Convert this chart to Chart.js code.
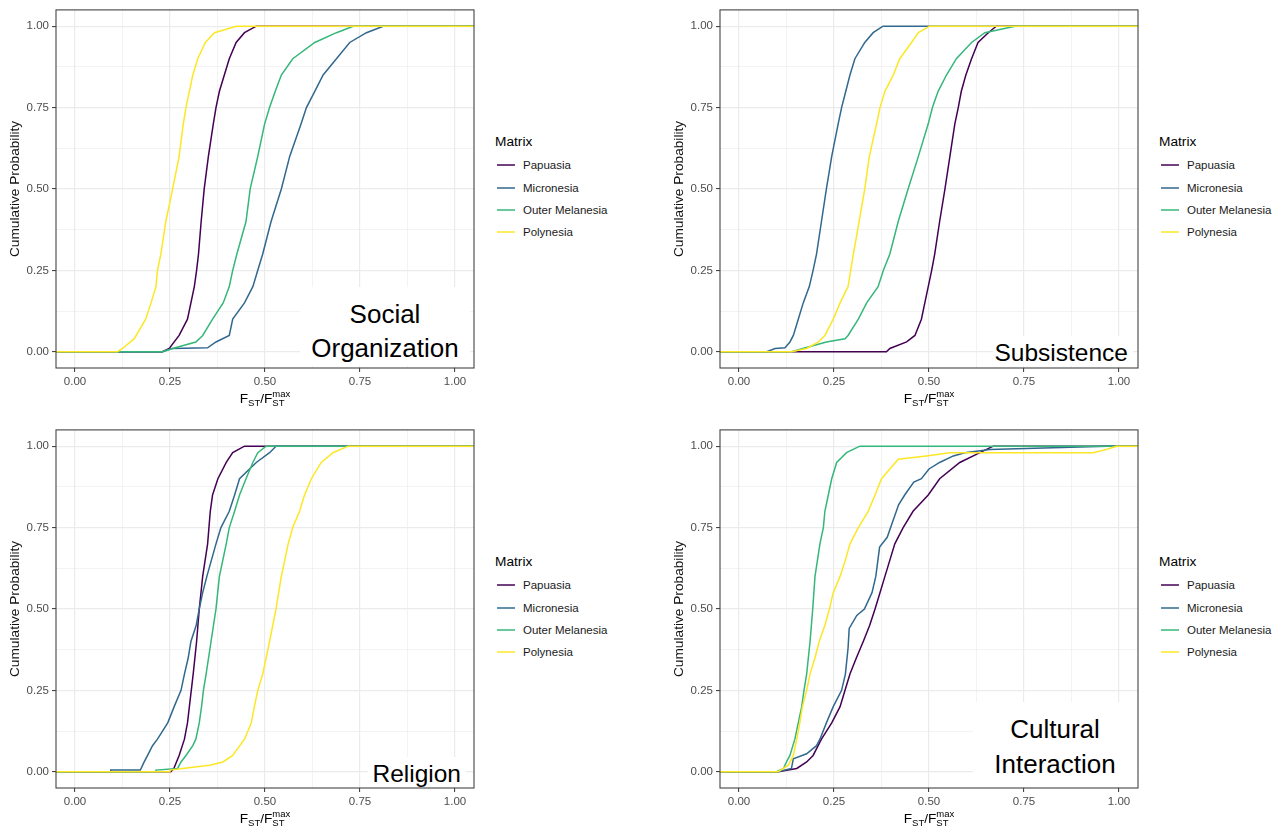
<!DOCTYPE html>
<html>
<head>
<meta charset="utf-8">
<script src="https://cdn.jsdelivr.net/npm/chart.js@4.4.1/dist/chart.umd.min.js"></script>
<style>
  body { margin: 0; background: #fff; width: 1284px; height: 837px; position: relative; overflow: hidden;
         font-family: "Liberation Sans", Arial, sans-serif; }
  canvas { position: absolute; }
  .xt { position: absolute; font-size: 13.7px; line-height: 14px; color: #000; white-space: nowrap; transform: translateX(-50%); }
  .xt sub { font-size: 9.5px; vertical-align: -3px; line-height: 0; }
  .xt .stk { display: inline-block; vertical-align: -3px; font-size: 9.5px; line-height: 9px; }
  .xt .stk span { display: block; }
  .lg { position: absolute; }
  .lg .ttl { position: absolute; left: 0; top: -8px; font-size: 13.7px; line-height: 16px; color: #000; white-space: nowrap; }
  .lg .key { position: absolute; left: 2px; width: 18px; height: 2px; opacity: 0.75; }
  .lg .lab { position: absolute; left: 28px; font-size: 11.5px; line-height: 14px; color: #1a1a1a; white-space: nowrap; }
  .note { position: absolute; background: #fff; color: #000; box-sizing: border-box; white-space: nowrap; }
</style>
</head>
<body>
<script>
// viridis palette, same order as the legend
const seriesNames = ['Papuasia', 'Micronesia', 'Outer Melanesia', 'Polynesia'];
const seriesColors = ['#440154', '#31688E', '#35B779', '#FDE725'];

const xMin = -0.05, xMax = 1.05;
const majorTicks = [0, 0.25, 0.5, 0.75, 1];
const minorTicks = [0.125, 0.375, 0.625, 0.875];
const tickLabels = ['0.00', '0.25', '0.50', '0.75', '1.00'];

// ECDF: [F_ST/F_ST^max, cumulative probability]
// Social Organization
const socPapuasia = [[0.23,0],[0.248,0.01],[0.274,0.05],[0.296,0.1],[0.314,0.2],[0.32,0.25],[0.325,0.3],[0.332,0.4],[0.34,0.5],[0.351,0.6],[0.364,0.7],[0.371,0.75],[0.38,0.8],[0.393,0.85],[0.406,0.9],[0.424,0.95],[0.446,0.98],[0.477,1]];
const socMicronesia = [[0.23,0],[0.255,0.01],[0.349,0.012],[0.371,0.03],[0.406,0.05],[0.415,0.1],[0.446,0.15],[0.468,0.2],[0.481,0.25],[0.494,0.3],[0.516,0.4],[0.543,0.5],[0.565,0.6],[0.595,0.7],[0.609,0.75],[0.631,0.8],[0.653,0.85],[0.688,0.9],[0.723,0.95],[0.767,0.98],[0.811,1]];
const socOuterMelanesia = [[0.23,0],[0.266,0.013],[0.318,0.03],[0.336,0.05],[0.362,0.1],[0.39,0.15],[0.406,0.2],[0.415,0.25],[0.426,0.3],[0.45,0.4],[0.461,0.5],[0.481,0.6],[0.499,0.7],[0.512,0.75],[0.527,0.8],[0.543,0.85],[0.573,0.9],[0.631,0.95],[0.688,0.98],[0.732,1]];
const socPolynesia = [[0.112,0],[0.125,0.01],[0.156,0.04],[0.186,0.1],[0.2,0.15],[0.213,0.2],[0.217,0.25],[0.226,0.3],[0.239,0.4],[0.257,0.5],[0.274,0.6],[0.285,0.7],[0.292,0.75],[0.301,0.8],[0.31,0.85],[0.323,0.9],[0.343,0.95],[0.367,0.98],[0.424,1]];

// Subsistence
const subPapuasia = [[0.388,0],[0.397,0.01],[0.441,0.03],[0.463,0.05],[0.48,0.1],[0.489,0.15],[0.498,0.2],[0.507,0.25],[0.515,0.3],[0.528,0.4],[0.542,0.5],[0.555,0.6],[0.568,0.7],[0.577,0.75],[0.585,0.8],[0.597,0.85],[0.612,0.9],[0.629,0.95],[0.656,0.98],[0.677,1]];
const subMicronesia = [[0.073,0],[0.095,0.01],[0.121,0.012],[0.134,0.03],[0.143,0.05],[0.156,0.1],[0.169,0.15],[0.185,0.2],[0.195,0.25],[0.204,0.3],[0.217,0.4],[0.23,0.5],[0.244,0.6],[0.261,0.7],[0.27,0.75],[0.281,0.8],[0.292,0.85],[0.305,0.9],[0.331,0.95],[0.353,0.98],[0.379,1]];
const subOuterMelanesia = [[0.138,0],[0.168,0.01],[0.23,0.03],[0.279,0.04],[0.287,0.05],[0.314,0.1],[0.336,0.15],[0.366,0.2],[0.38,0.25],[0.397,0.3],[0.419,0.4],[0.445,0.5],[0.472,0.6],[0.498,0.7],[0.509,0.75],[0.524,0.8],[0.546,0.85],[0.572,0.9],[0.612,0.95],[0.647,0.98],[0.726,1]];
const subPolynesia = [[0.138,0],[0.178,0.01],[0.209,0.03],[0.226,0.05],[0.248,0.1],[0.266,0.15],[0.287,0.2],[0.294,0.25],[0.301,0.3],[0.316,0.4],[0.331,0.5],[0.343,0.6],[0.362,0.7],[0.371,0.75],[0.384,0.8],[0.406,0.85],[0.423,0.9],[0.454,0.95],[0.472,0.98],[0.502,1]];

// Religion
const relPapuasia = [[0.252,0],[0.26,0.01],[0.274,0.05],[0.288,0.1],[0.296,0.15],[0.301,0.2],[0.306,0.25],[0.311,0.3],[0.32,0.4],[0.327,0.5],[0.336,0.6],[0.349,0.7],[0.356,0.8],[0.362,0.85],[0.376,0.9],[0.398,0.95],[0.415,0.98],[0.446,1]];
const relMicronesia = [[0.094,0],[0.094,0.005],[0.172,0.005],[0.182,0.03],[0.191,0.05],[0.204,0.08],[0.217,0.1],[0.244,0.15],[0.261,0.2],[0.279,0.25],[0.288,0.3],[0.298,0.35],[0.305,0.4],[0.319,0.45],[0.327,0.5],[0.336,0.55],[0.347,0.6],[0.371,0.7],[0.384,0.75],[0.406,0.8],[0.42,0.85],[0.433,0.9],[0.477,0.95],[0.512,0.98],[0.529,1]];
const relOuterMelanesia = [[0.213,0],[0.213,0.005],[0.27,0.01],[0.279,0.03],[0.292,0.05],[0.31,0.08],[0.318,0.1],[0.327,0.15],[0.333,0.2],[0.338,0.25],[0.345,0.3],[0.358,0.4],[0.371,0.5],[0.38,0.6],[0.398,0.7],[0.406,0.75],[0.42,0.8],[0.433,0.85],[0.45,0.9],[0.468,0.95],[0.481,0.98],[0.503,1]];
const relPolynesia = [[0.25,0],[0.25,0.005],[0.283,0.01],[0.354,0.02],[0.389,0.03],[0.415,0.05],[0.446,0.1],[0.464,0.15],[0.472,0.2],[0.481,0.25],[0.494,0.3],[0.512,0.4],[0.529,0.5],[0.543,0.6],[0.561,0.7],[0.573,0.75],[0.591,0.8],[0.604,0.85],[0.622,0.9],[0.648,0.95],[0.679,0.98],[0.719,1]];

// Cultural Interaction
const culPapuasia = [[0.103,0],[0.152,0.01],[0.178,0.03],[0.195,0.05],[0.217,0.1],[0.244,0.15],[0.266,0.2],[0.279,0.25],[0.292,0.3],[0.309,0.35],[0.327,0.4],[0.344,0.45],[0.358,0.5],[0.371,0.55],[0.384,0.6],[0.397,0.65],[0.41,0.7],[0.432,0.75],[0.458,0.8],[0.498,0.85],[0.528,0.9],[0.581,0.95],[0.634,0.98],[0.669,1]];
const culMicronesia = [[0.103,0],[0.138,0.01],[0.143,0.04],[0.178,0.055],[0.204,0.08],[0.213,0.1],[0.23,0.15],[0.248,0.2],[0.27,0.25],[0.28,0.3],[0.287,0.38],[0.29,0.44],[0.31,0.48],[0.33,0.5],[0.35,0.55],[0.36,0.6],[0.37,0.69],[0.39,0.72],[0.405,0.77],[0.42,0.82],[0.436,0.85],[0.46,0.89],[0.48,0.9],[0.5,0.93],[0.528,0.95],[0.564,0.97],[0.594,0.98],[0.66,0.99],[0.826,0.995],[0.967,1]];
const culOuterMelanesia = [[0.099,0],[0.117,0.01],[0.125,0.03],[0.134,0.05],[0.147,0.1],[0.156,0.15],[0.165,0.2],[0.171,0.25],[0.178,0.3],[0.187,0.4],[0.194,0.5],[0.2,0.6],[0.213,0.7],[0.222,0.75],[0.226,0.8],[0.235,0.85],[0.244,0.9],[0.257,0.95],[0.283,0.98],[0.318,1]];
const culPolynesia = [[0.103,0],[0.13,0.02],[0.143,0.05],[0.152,0.1],[0.16,0.15],[0.167,0.2],[0.178,0.25],[0.187,0.3],[0.2,0.35],[0.211,0.4],[0.226,0.45],[0.238,0.5],[0.248,0.55],[0.266,0.6],[0.28,0.65],[0.292,0.7],[0.314,0.75],[0.34,0.8],[0.358,0.85],[0.375,0.9],[0.397,0.93],[0.419,0.96],[0.493,0.97],[0.555,0.98],[0.932,0.98],[0.967,0.99],[0.993,1]];

const panels = [
  { plotLeft: 56,  top: 0,   series: [socPapuasia, socMicronesia, socOuterMelanesia, socPolynesia],
    note: { lines: ['Social', 'Organization'], left: 300, top: 287, width: 170, height: 79, pad: 10, size: 26, lh: 34, align: 'center' } },
  { plotLeft: 720, top: 0,   series: [subPapuasia, subMicronesia, subOuterMelanesia, subPolynesia],
    note: { lines: ['Subsistence'], left: 993, top: 336, width: 140, height: 30, pad: 2, size: 24.5, lh: 30, align: 'right' } },
  { plotLeft: 56,  top: 420, series: [relPapuasia, relMicronesia, relOuterMelanesia, relPolynesia],
    note: { lines: ['Religion'], left: 368, top: 757, width: 98, height: 30, pad: 1.5, size: 24.5, lh: 30, align: 'right' } },
  { plotLeft: 720, top: 420, series: [culPapuasia, culMicronesia, culOuterMelanesia, culPolynesia],
    note: { lines: ['Cultural', 'Interaction'], left: 973, top: 702, width: 164, height: 85, pad: 10, size: 26, lh: 35, align: 'center' } }
];

const fontFamily = '"Liberation Sans", Arial, sans-serif';
const gridTicks = majorTicks.concat(minorTicks).sort((a, b) => a - b);

function isMajor(v) {
  return majorTicks.some(m => Math.abs(m - v) < 1e-9);
}
function labelFor(v) {
  const i = majorTicks.findIndex(m => Math.abs(m - v) < 1e-9);
  return i >= 0 ? tickLabels[i] : '';
}
// stat_ecdf pads the curve out to both panel edges
function ecdfPoints(pairs) {
  return [{ x: xMin, y: 0 }].concat(pairs.map(p => ({ x: p[0], y: p[1] })), [{ x: xMax, y: 1 }]);
}

const panelBorder = {
  id: 'panelBorder',
  afterDraw(chart) {
    const { ctx, chartArea: a } = chart;
    ctx.save();
    ctx.strokeStyle = '#444';
    ctx.lineWidth = 1.1;
    ctx.strokeRect(a.left, a.top, a.right - a.left, a.bottom - a.top);
    ctx.restore();
  }
};

function axis(extra) {
  return Object.assign({
    type: 'linear',
    min: xMin,
    max: xMax,
    afterBuildTicks: s => { s.ticks = gridTicks.map(v => ({ value: v })); },
    ticks: {
      autoSkip: false, maxRotation: 0, padding: 3, color: '#4D4D4D',
      font: { family: fontFamily, size: 11.5 },
      callback: v => labelFor(v)
    },
    grid: {
      color: '#EBEBEB',
      lineWidth: c => (c.tick && isMajor(c.tick.value)) ? 1.2 : 0.6,
      tickLength: 4,
      tickColor: c => (c.tick && isMajor(c.tick.value)) ? '#333' : 'rgba(0,0,0,0)',
      tickWidth: 1
    },
    border: { display: false }
  }, extra);
}

panels.forEach(p => {
  const canvas = document.createElement('canvas');
  canvas.width = 480;
  canvas.height = 390;
  canvas.style.left = (p.plotLeft - 56) + 'px';
  canvas.style.top = p.top + 'px';
  document.body.appendChild(canvas);

  const datasets = p.series.map((s, i) => ({
    label: seriesNames[i],
    data: ecdfPoints(s),
    borderColor: seriesColors[i],
    borderWidth: 1.5,
    pointRadius: 0,
    showLine: true,
    fill: false,
    tension: 0,
    order: p.series.length - i
  }));

  new Chart(canvas.getContext('2d'), {
    type: 'scatter',
    data: { datasets: datasets },
    options: {
      responsive: false,
      animation: false,
      events: [],
      layout: { padding: { top: 8, right: 6, left: 0, bottom: 0 } },
      plugins: { legend: { display: false }, tooltip: { enabled: false } },
      scales: {
        x: axis({ afterFit: s => { s.height = 22; } }),
        y: axis({
          afterFit: s => { s.width = 56; },
          title: {
            display: true, text: 'Cumulative Probability', color: '#111',
            font: { family: fontFamily, size: 13.7 }, padding: { top: 7, bottom: 0 }
          }
        })
      }
    },
    plugins: [panelBorder]
  });

  // x axis title F_ST / F_ST^max
  const xt = document.createElement('div');
  xt.className = 'xt';
  xt.style.left = (p.plotLeft + 209) + 'px';
  xt.style.top = (p.top + 389) + 'px';
  xt.innerHTML = 'F<sub>ST</sub>/F<span class="stk"><span>max</span><span>ST</span></span>';
  document.body.appendChild(xt);

  // legend
  const lg = document.createElement('div');
  lg.className = 'lg';
  lg.style.left = (p.plotLeft + 439) + 'px';
  lg.style.top = (p.top + 142) + 'px';
  let html = '<div class="ttl">Matrix</div>';
  seriesNames.forEach((n, i) => {
    const y = 23.2 + i * 22.3;
    html += '<div class="key" style="top:' + (Math.round(y) - 1) + 'px;background:' + seriesColors[i] + '"></div>';
    html += '<div class="lab" style="top:' + (y - 7) + 'px">' + n + '</div>';
  });
  lg.innerHTML = html;
  document.body.appendChild(lg);

  // panel label
  const n = p.note;
  const note = document.createElement('div');
  note.className = 'note';
  Object.assign(note.style, {
    left: n.left + 'px', top: n.top + 'px', width: n.width + 'px', height: n.height + 'px',
    paddingTop: n.pad + 'px', paddingRight: n.align === 'right' ? '5px' : '0',
    fontSize: n.size + 'px', lineHeight: n.lh + 'px', textAlign: n.align
  });
  note.innerHTML = n.lines.join('<br>');
  document.body.appendChild(note);
});
</script>
</body>
</html>
